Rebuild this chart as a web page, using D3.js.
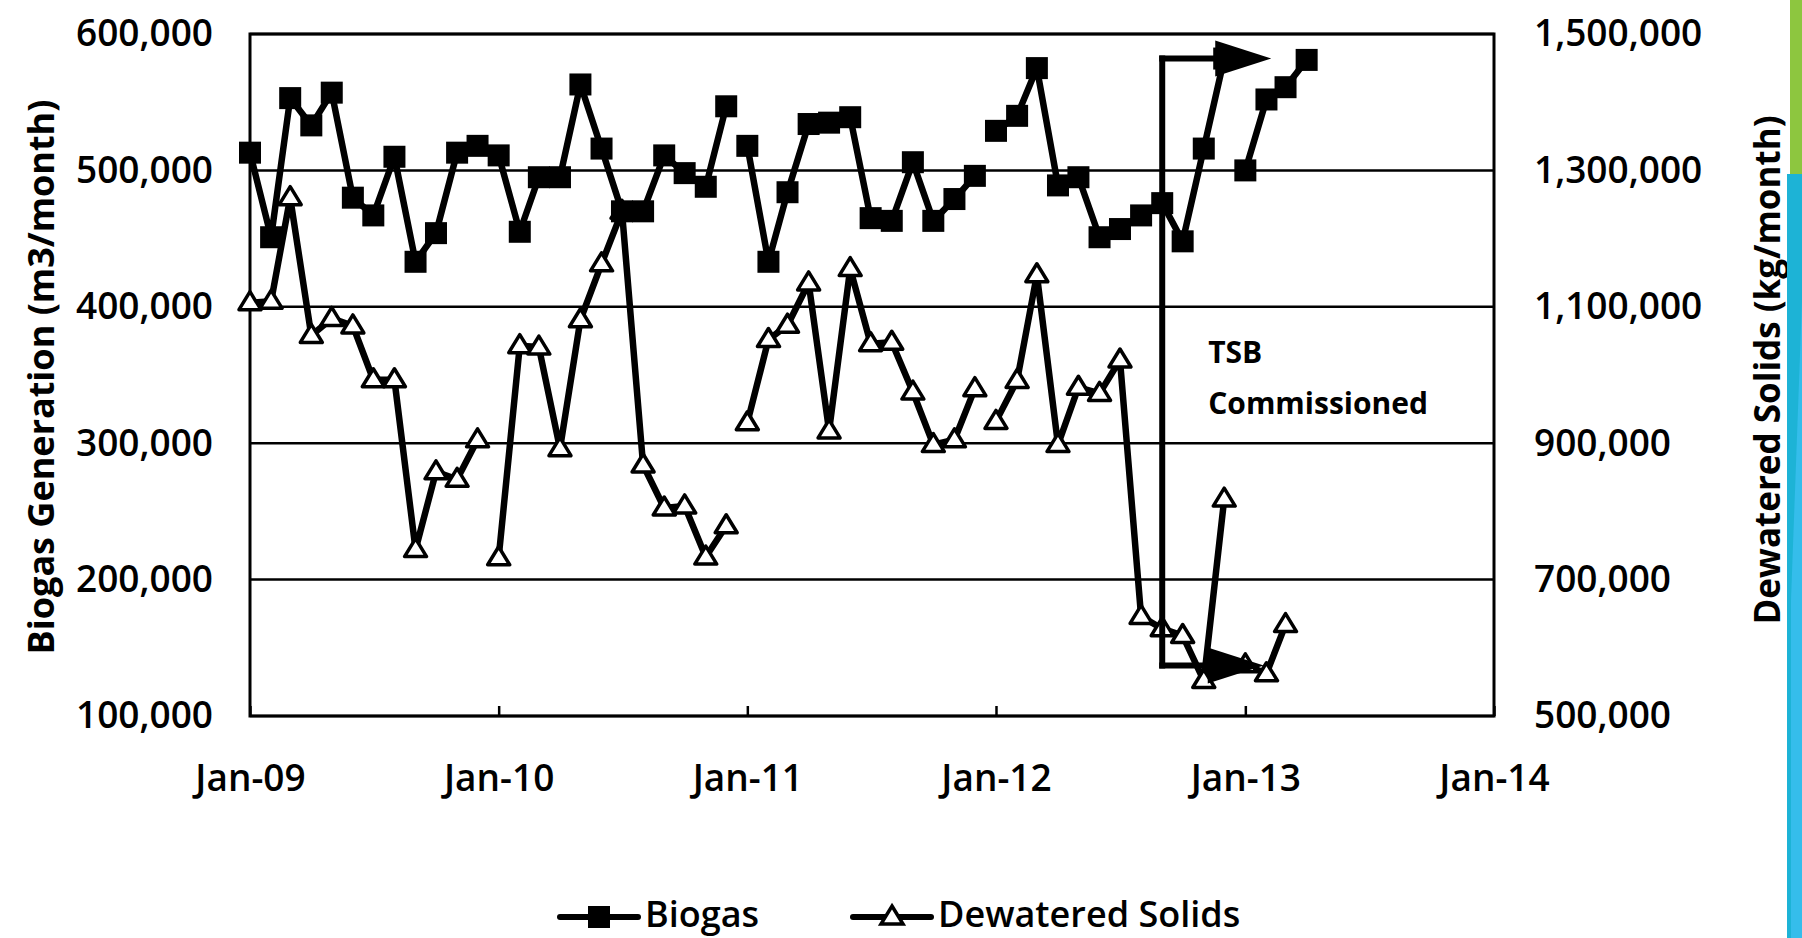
<!DOCTYPE html>
<html><head><meta charset="utf-8">
<script src="https://cdn.jsdelivr.net/npm/d3@7/dist/d3.min.js"></script>
<style>
html,body{margin:0;padding:0;background:#fff;}
svg{display:block;}
text{font-family:"Open Sans","DejaVu Sans",sans-serif;fill:#000;}
</style></head><body>
<svg id="chart" width="1802" height="938"></svg>
<script>
// ---------- data ----------
const months = [
  "2009-01","2009-02","2009-03","2009-04","2009-05","2009-06","2009-07","2009-08","2009-09","2009-10","2009-11","2009-12",
  "2010-01","2010-02","2010-03","2010-04","2010-05","2010-06","2010-07","2010-08","2010-09","2010-10","2010-11","2010-12",
  "2011-01","2011-02","2011-03","2011-04","2011-05","2011-06","2011-07","2011-08","2011-09","2011-10","2011-11","2011-12",
  "2012-01","2012-02","2012-03","2012-04","2012-05","2012-06","2012-07","2012-08","2012-09","2012-10","2012-11","2012-12",
  "2013-01","2013-02","2013-03","2013-04"
];
const biogas = [
  513000,451000,553000,533000,557000,480000,467000,510000,433000,454000,513000,518000,
  511000,455000,495000,495000,563000,516000,470000,470000,511000,498000,488000,547000,
  518000,433000,484000,534000,535000,539000,465000,463000,506000,463000,479000,496000,
  529000,540000,575000,489000,495000,451000,457000,467000,476000,448000,516000,582000,
  500000,552000,561000,581000
];
const dewateredSolids = [
  1106000,1108000,1260000,1058000,1083000,1072000,993000,993000,744000,858000,847000,905000,
  732000,1043000,1041000,892000,1081000,1163000,1240000,868000,805000,808000,733000,779000,
  930000,1052000,1073000,1135000,918000,1156000,1046000,1048000,975000,898000,905000,980000,
  932000,992000,1147000,898000,982000,973000,1022000,646000,628000,618000,552000,818000,
  575000,562000,634000,null
];
// months where the plotted line starts a new segment (not joined to previous month)
const biogasRestarts = ["2011-01","2012-01","2013-01"];
const solidsRestarts = ["2010-01","2011-01","2012-01","2013-01"];

const leftTicks = [100000,200000,300000,400000,500000,600000];
const rightTicks = [500000,700000,900000,1100000,1300000,1500000];
const xTicks = ["2009-01","2010-01","2011-01","2012-01","2013-01","2014-01"];
const xDomain = ["2009-01","2014-01"];

const tsbDate = "2012-09-01";
const tsbArrows = [
  {end:"2013-02-08", level:582000},
  {end:"2013-01-28", level:137000}
];
const tsbLabel = ["TSB","Commissioned"];
const seriesNames = ["Biogas","Dewatered Solids"];
const leftTitle = "Biogas Generation (m3/month)";
const rightTitle = "Dewatered Solids (kg/month)";

// ---------- layout ----------
const W = 1802, H = 938;
const plot = {left:250, right:1494, top:34, bottom:716};
const parseM = d3.timeParse("%Y-%m");
const parseD = d3.timeParse("%Y-%m-%d");
const FONT = '"Open Sans","DejaVu Sans",sans-serif';

const svg = d3.select("#chart");
svg.append("rect").attr("width",W).attr("height",H).attr("fill","#fff");

const x = d3.scaleTime().domain(xDomain.map(parseM)).range([plot.left, plot.right]);
const yL = d3.scaleLinear().domain([100000,600000]).range([plot.bottom, plot.top]);
const yR = d3.scaleLinear().domain([500000,1500000]).range([plot.bottom, plot.top]);

// gridlines
svg.append("g").selectAll("line").data(leftTicks).join("line")
  .attr("x1",plot.left).attr("x2",plot.right)
  .attr("y1",d=>yL(d)).attr("y2",d=>yL(d))
  .attr("stroke","#000").attr("stroke-width",2.5);
// border
svg.append("rect").attr("x",plot.left).attr("y",plot.top)
  .attr("width",plot.right-plot.left).attr("height",plot.bottom-plot.top)
  .attr("fill","none").attr("stroke","#000").attr("stroke-width",3);

// axes
const fmt = d3.format(",");
const gL = svg.append("g").attr("transform",`translate(${plot.left},0)`)
  .call(d3.axisLeft(yL).tickValues(leftTicks).tickFormat(fmt).tickSize(0).tickPadding(37));
const gR = svg.append("g").attr("transform",`translate(${plot.right},0)`)
  .call(d3.axisRight(yR).tickValues(rightTicks).tickFormat(fmt).tickSize(0).tickPadding(40));
const gB = svg.append("g").attr("transform",`translate(0,${plot.bottom})`)
  .call(d3.axisBottom(x).tickValues(xTicks.map(parseM)).tickFormat(d3.timeFormat("%b-%y"))
        .tickSizeInner(-10).tickSizeOuter(0).tickPadding(49));
[gL,gR,gB].forEach(g=>{
  g.select(".domain").remove();
  g.selectAll("text").attr("font-size",37).attr("font-weight",600)
    .attr("font-family",FONT).attr("fill","#000");
  g.selectAll(".tick line").attr("stroke","#000").attr("stroke-width",2.5);
});

// axis titles
svg.append("text").attr("transform",`translate(40,377) rotate(-90)`)
  .attr("text-anchor","middle").attr("dominant-baseline","central")
  .attr("font-size",36).attr("font-weight",700).text(leftTitle);
svg.append("text").attr("transform",`translate(1766,370) rotate(-90)`)
  .attr("text-anchor","middle").attr("dominant-baseline","central")
  .attr("font-size",35).attr("font-weight",700).text(rightTitle);

// build segments
function segments(vals, restarts){
  const segs=[]; let cur=[];
  months.forEach((m,i)=>{
    if(restarts.includes(m) && cur.length){segs.push(cur); cur=[];}
    if(vals[i]!=null) cur.push({date:parseM(m), v:vals[i]});
    else if(cur.length){segs.push(cur); cur=[];}
  });
  if(cur.length) segs.push(cur);
  return segs;
}
const bioSegs = segments(biogas, biogasRestarts);
const solSegs = segments(dewateredSolids, solidsRestarts);

const lineL = d3.line().x(d=>x(d.date)).y(d=>yL(d.v));
const lineR = d3.line().x(d=>x(d.date)).y(d=>yR(d.v));

const triPath = "M0,-11L11,7L-11,7Z";

// solids lines
svg.append("g").selectAll("path").data(solSegs).join("path")
  .attr("d",lineR).attr("fill","none").attr("stroke","#000")
  .attr("stroke-width",6.5).attr("stroke-linejoin","round");
// biogas lines
svg.append("g").selectAll("path").data(bioSegs).join("path")
  .attr("d",lineL).attr("fill","none").attr("stroke","#000")
  .attr("stroke-width",6.5).attr("stroke-linejoin","round");
// solids markers
svg.append("g").selectAll("path").data(solSegs.flat()).join("path")
  .attr("d",triPath).attr("transform",d=>`translate(${x(d.date)},${yR(d.v)})`)
  .attr("fill","#fff").attr("stroke","#000").attr("stroke-width",3.5).attr("stroke-linejoin","round");
// biogas markers
svg.append("g").selectAll("rect").data(bioSegs.flat()).join("rect")
  .attr("x",d=>x(d.date)-11).attr("y",d=>yL(d.v)-11)
  .attr("width",22).attr("height",22).attr("fill","#000");

// TSB annotation
const xt = x(parseD(tsbDate));
const ann = svg.append("g");
ann.append("line").attr("x1",xt).attr("x2",xt)
  .attr("y1",yL(tsbArrows[0].level)-3).attr("y2",yL(tsbArrows[1].level)+3)
  .attr("stroke","#000").attr("stroke-width",6);
tsbArrows.forEach(a=>{
  const xe = x(parseD(a.end)), ya = yL(a.level);
  ann.append("line").attr("x1",xt-3).attr("x2",xe-50).attr("y1",ya).attr("y2",ya)
    .attr("stroke","#000").attr("stroke-width",6);
  ann.append("path").attr("d",`M${xe},${ya}L${xe-56},${ya-18}L${xe-56},${ya+18}Z`).attr("fill","#000");
});
ann.append("text").attr("x",xt+46).attr("y",363).attr("font-size",30).attr("font-weight",700).text(tsbLabel[0]);
ann.append("text").attr("x",xt+46).attr("y",414).attr("font-size",30).attr("font-weight",700).text(tsbLabel[1]);

// legend
const leg = svg.append("g");
const legY = 917;
const legItems = [{x:560, name:seriesNames[0], type:"sq"},{x:853, name:seriesNames[1], type:"tri"}];
legItems.forEach(it=>{
  leg.append("line").attr("x1",it.x).attr("x2",it.x+78).attr("y1",legY).attr("y2",legY)
    .attr("stroke","#000").attr("stroke-width",6).attr("stroke-linecap","round");
  if(it.type==="sq"){
    leg.append("rect").attr("x",it.x+28).attr("y",legY-11).attr("width",22).attr("height",22).attr("fill","#000");
  } else {
    leg.append("path").attr("d",triPath).attr("transform",`translate(${it.x+39},${legY})`)
      .attr("fill","#fff").attr("stroke","#000").attr("stroke-width",3.5);
  }
  leg.append("text").attr("x",it.x+85).attr("y",legY+10).attr("font-size",36).attr("font-weight",600)
    .text(it.name);
});

// decorative edge strip
svg.append("rect").attr("x",1790).attr("y",0).attr("width",12).attr("height",174).attr("fill","#8DC63F");
svg.append("rect").attr("x",1787).attr("y",174).attr("width",15).attr("height",H-174).attr("fill","#1DB3D6");
svg.append("path").attr("d",`M1802,300L1791,600L1791,${H}L1802,${H}Z`).attr("fill","#35BDEB");
</script>
</body></html>
